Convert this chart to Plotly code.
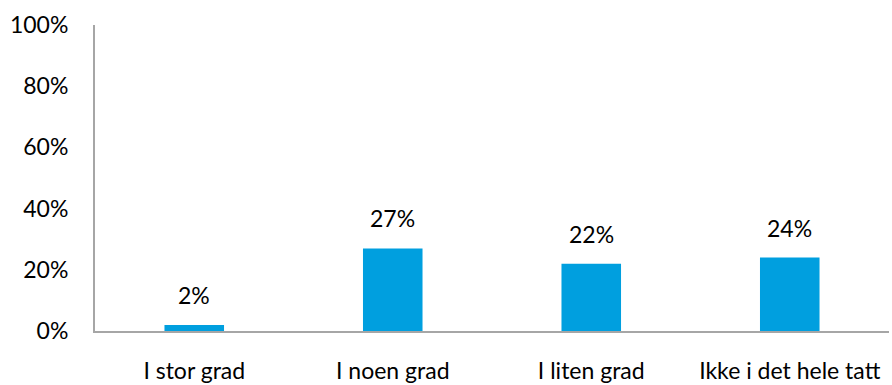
import plotly.graph_objects as go

categories = ["I stor grad", "I noen grad", "I liten grad", "Ikke i det hele tatt"]
values = [2, 27, 22, 24]
y_ticks = [0, 20, 40, 60, 80, 100]
y_tick_labels = ["0%", "20%", "40%", "60%", "80%", "100%"]

bar_color = "#009FDF"
axis_color = "#A6A6A6"
font_family = "Lato, 'Open Sans', sans-serif"
font_size = 23

fig = go.Figure(
    go.Bar(
        x=categories,
        y=values,
        marker=dict(color=bar_color, line=dict(width=0)),
        width=0.3,
        hoverinfo="skip",
    )
)

# value labels above each bar
for cat, val in zip(categories, values):
    fig.add_annotation(
        x=cat, y=val, text=f"{val}%", showarrow=False,
        yanchor="bottom", yshift=14,
        font=dict(family=font_family, size=font_size, color="#000000"),
    )

fig.update_layout(
    width=892, height=385,
    margin=dict(l=95, r=3, t=25, b=54),
    paper_bgcolor="white", plot_bgcolor="white",
    showlegend=False,
    font=dict(family=font_family, size=font_size, color="#000000"),
    bargap=0.7,
)
fig.update_xaxes(
    showgrid=False, zeroline=False, automargin=False,
    showline=True, linecolor=axis_color, linewidth=2,
    ticks="", ticklabelstandoff=18,
    tickfont=dict(family=font_family, size=font_size),
)
fig.update_yaxes(
    range=[0, 100], tickvals=y_ticks, ticktext=y_tick_labels,
    showgrid=False, zeroline=False, automargin=False,
    showline=True, linecolor=axis_color, linewidth=2,
    ticks="", ticklabelstandoff=20,
    tickfont=dict(family=font_family, size=font_size),
)

fig.write_html("out.html")
